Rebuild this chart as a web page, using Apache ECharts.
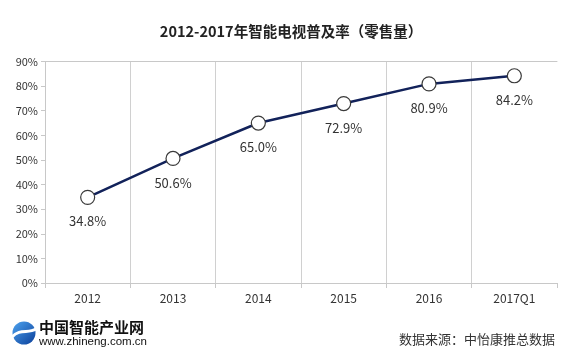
<!DOCTYPE html>
<html>
<head>
<meta charset="utf-8">
<script src="https://cdn.jsdelivr.net/npm/echarts@6/dist/echarts.min.js"></script>
<style>
html,body{margin:0;padding:0;background:#fff;}
#chart{width:582px;height:360px;}
</style>
</head>
<body>
<div id="chart"></div>
<script>
const categories = ['2012', '2013', '2014', '2015', '2016', '2017Q1'];
const penetration = [34.8, 50.6, 65.0, 72.9, 80.9, 84.2];
const yMin = 0, yMax = 90, yStep = 10;
const titleText = '2012-2017年智能电视普及率（零售量）';
const sourceText = '数据来源：中怡康推总数据';
const logoName = '中国智能产业网';
const logoUrl = 'www.zhineng.com.cn';

const chart = echarts.init(document.getElementById('chart'), null, {renderer: 'canvas'});
const cjk = '"Noto Sans CJK SC", "Noto Sans", sans-serif';
chart.setOption({
  backgroundColor: '#fff',
  animation: false,
  title: {
    text: titleText, left: 'center', top: 19,
    textStyle: {fontFamily: cjk, fontSize: 14.5, fontWeight: 'bold', color: '#222'}
  },
  grid: {left: 45, right: 25, top: 61.5, bottom: 77, containLabel: false},
  xAxis: [{
    type: 'category', data: categories, boundaryGap: true,
    axisLine: {show: true, lineStyle: {color: '#c8c8c8', width: 1}},
    axisTick: {show: true, length: 5, lineStyle: {color: '#c8c8c8'}},
    splitLine: {show: true, showMinLine: true, showMaxLine: false, lineStyle: {color: '#d0d0d0', width: 1}},
    axisLabel: {color: '#333', fontSize: 12, margin: 9, fontFamily: cjk}
  }, {
    type: 'category', data: categories, position: 'top', boundaryGap: true,
    axisLine: {show: true, lineStyle: {color: '#c8c8c8', width: 1}},
    axisTick: {show: false}, axisLabel: {show: false}, splitLine: {show: false}
  }],
  yAxis: {
    type: 'value', min: yMin, max: yMax, interval: yStep,
    axisLine: {show: true, lineStyle: {color: '#c8c8c8', width: 1}},
    axisTick: {show: true, length: 4, lineStyle: {color: '#c8c8c8'}},
    splitLine: {show: false},
    axisLabel: {color: '#333', fontSize: 11, margin: 7, formatter: '{value}%', fontFamily: cjk}
  },
  series: [{
    type: 'line', data: penetration, xAxisIndex: 0,
    lineStyle: {color: '#12225a', width: 2.5},
    symbol: 'circle', symbolSize: 14,
    itemStyle: {color: '#fff', borderColor: '#3a3a3a', borderWidth: 1.2},
    label: {
      show: true, position: 'bottom', distance: 10,
      color: '#333', fontSize: 13, fontFamily: cjk,
      formatter: p => p.value.toFixed(1) + '%'
    },
    z: 3
  }],
  graphic: [
    {type: 'circle', shape: {cx: 24, cy: 333, r: 11.5},
     style: {fill: new echarts.graphic.LinearGradient(0, 0, 1, 1, [{offset: 0, color: '#4da3ef'}, {offset: 1, color: '#0b3f9a'}])}},
    {type: 'bezierCurve', shape: {x1: 12, y1: 337, x2: 36, y2: 329, cpx1: 20, cpy1: 328, cpx2: 28, cpy2: 334},
     style: {stroke: '#fff', lineWidth: 3, fill: null}},
    {type: 'text', left: 39, top: 320,
     style: {text: logoName, font: 'bold 15px ' + cjk, fill: '#111'}},
    {type: 'text', left: 39, top: 336,
     style: {text: logoUrl, font: '11.5px "Liberation Sans", Arial, sans-serif', fill: '#111'}},
    {type: 'text', right: 27, top: 333,
     style: {text: sourceText, font: '13px ' + cjk, fill: '#333'}}
  ]
});
</script>
</body>
</html>
